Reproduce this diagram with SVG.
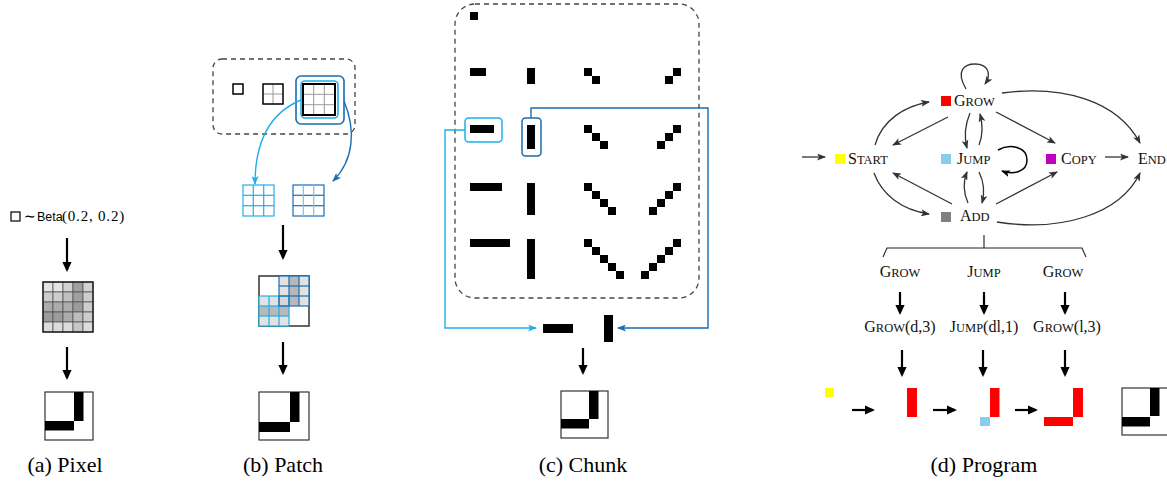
<svg xmlns="http://www.w3.org/2000/svg" width="1167" height="482" viewBox="0 0 1167 482">
<style>
.cap{font-family:"Liberation Serif","Times New Roman",serif;font-size:22px;fill:#000;text-anchor:middle}
.sc{font-family:"Liberation Serif","Times New Roman",serif;font-size:16px;fill:#111}
.sm{font-size:12.5px}
.ser{font-family:"Liberation Serif","Times New Roman",serif;fill:#000}
.sans{font-family:"Liberation Sans",Arial,sans-serif;fill:#000}
.k{stroke:#000;stroke-width:2.2;fill:none}
.g{stroke:#333;stroke-width:1.3;fill:none;marker-end:url(#mg)}
.dash{fill:none;stroke:#444;stroke-width:1.3;stroke-dasharray:5 4}
.px{fill:#000}
</style>
<defs>
<marker id="mk" markerUnits="userSpaceOnUse" markerWidth="10" markerHeight="10" viewBox="0 -5 10 10" refX="8" refY="0" orient="auto"><path d="M0,-4.6 L10,0 L0,4.6 z" fill="#000"/></marker>
<marker id="mg" markerUnits="userSpaceOnUse" markerWidth="9" markerHeight="7" viewBox="0 0 9 7" refX="8" refY="3.5" orient="auto"><path d="M0,0 L9,3.5 L0,7 L2.2,3.5 z" fill="#333"/></marker>
<marker id="mgk" markerUnits="userSpaceOnUse" markerWidth="9" markerHeight="7" viewBox="0 0 9 7" refX="8" refY="3.5" orient="auto"><path d="M0,0 L9,3.5 L0,7 L2.2,3.5 z" fill="#000"/></marker>
<marker id="mlb" markerUnits="userSpaceOnUse" markerWidth="9" markerHeight="7" viewBox="0 0 9 7" refX="8" refY="3.5" orient="auto"><path d="M0,0 L9,3.5 L0,7 L2.2,3.5 z" fill="#1eb0ea"/></marker>
<marker id="mdb" markerUnits="userSpaceOnUse" markerWidth="9" markerHeight="7" viewBox="0 0 9 7" refX="8" refY="3.5" orient="auto"><path d="M0,0 L9,3.5 L0,7 L2.2,3.5 z" fill="#1a6db3"/></marker>
</defs>

<!-- (a) Pixel -->
<g id="pixel">
<rect x="11" y="212" width="9" height="9" fill="none" stroke="#000" stroke-width="1.2"/>
<text class="ser" x="24" y="221" font-size="14">∼</text>
<text class="sans" x="37" y="221" font-size="12.5">Beta</text>
<text class="ser" x="62" y="221" font-size="15" letter-spacing="0.8">(0.2, 0.2)</text>
<g id="pixel-grid" stroke="#555" stroke-width="0.8">
<rect x="43" y="282" width="10" height="10" fill="#e4e4e4"/><rect x="53" y="282" width="10" height="10" fill="#e4e4e4"/><rect x="63" y="282" width="10" height="10" fill="#d2d2d2"/><rect x="73" y="282" width="10" height="10" fill="#a0a0a0"/><rect x="83" y="282" width="10" height="10" fill="#d2d2d2"/>
<rect x="43" y="292" width="10" height="10" fill="#cdcdcd"/><rect x="53" y="292" width="10" height="10" fill="#cdcdcd"/><rect x="63" y="292" width="10" height="10" fill="#c0c0c0"/><rect x="73" y="292" width="10" height="10" fill="#a0a0a0"/><rect x="83" y="292" width="10" height="10" fill="#cdcdcd"/>
<rect x="43" y="302" width="10" height="10" fill="#acacac"/><rect x="53" y="302" width="10" height="10" fill="#acacac"/><rect x="63" y="302" width="10" height="10" fill="#acacac"/><rect x="73" y="302" width="10" height="10" fill="#9c9c9c"/><rect x="83" y="302" width="10" height="10" fill="#cdcdcd"/>
<rect x="43" y="312" width="10" height="10" fill="#9c9c9c"/><rect x="53" y="312" width="10" height="10" fill="#9c9c9c"/><rect x="63" y="312" width="10" height="10" fill="#acacac"/><rect x="73" y="312" width="10" height="10" fill="#bcbcbc"/><rect x="83" y="312" width="10" height="10" fill="#cdcdcd"/>
<rect x="43" y="322" width="10" height="10" fill="#dcdcdc"/><rect x="53" y="322" width="10" height="10" fill="#dcdcdc"/><rect x="63" y="322" width="10" height="10" fill="#dcdcdc"/><rect x="73" y="322" width="10" height="10" fill="#c6c6c6"/><rect x="83" y="322" width="10" height="10" fill="#dcdcdc"/>
</g>
<rect x="43" y="282" width="50" height="50" fill="none" stroke="#222" stroke-width="1.5"/>
<rect x="45" y="392" width="48" height="48" fill="#fff" stroke="#333" stroke-width="1.2"/>
<rect x="74" y="392" width="9.5" height="29" fill="#000"/>
<rect x="45" y="421" width="29" height="9.5" fill="#000"/>
</g>

<!-- (b) Patch -->
<g id="patch">
<rect x="213" y="59" width="142" height="75" rx="9" class="dash"/>
<rect x="233" y="84" width="10" height="10" fill="none" stroke="#000" stroke-width="1.5"/>
<g stroke="#999" stroke-width="1"><line x1="273" y1="84" x2="273" y2="104"/><line x1="263" y1="94" x2="283" y2="94"/></g>
<rect x="263" y="84" width="20" height="20" fill="none" stroke="#000" stroke-width="1.5"/>
<rect x="296" y="76" width="48" height="48" rx="5" fill="none" stroke="#1a6db3" stroke-width="1.6"/>
<rect x="301" y="81" width="37" height="37" rx="4" fill="none" stroke="#1eb0ea" stroke-width="1.6"/>
<g stroke="#999" stroke-width="1"><line x1="313.7" y1="84" x2="313.7" y2="115"/><line x1="324.3" y1="84" x2="324.3" y2="115"/><line x1="303" y1="94.3" x2="335" y2="94.3"/><line x1="303" y1="104.7" x2="335" y2="104.7"/></g>
<rect x="303" y="84" width="32" height="31" fill="none" stroke="#000" stroke-width="2"/>
<path d="M301,100 C272,112 255,138 255,184" fill="none" stroke="#1eb0ea" stroke-width="1.4" marker-end="url(#mlb)"/>
<path d="M344,101 C356,130 354,160 333,181" fill="none" stroke="#1a6db3" stroke-width="1.4" marker-end="url(#mdb)"/>
<g stroke="#1eb0ea" stroke-width="1.2" fill="none"><rect x="243" y="185" width="31" height="31"/><line x1="253.3" y1="185" x2="253.3" y2="216"/><line x1="263.7" y1="185" x2="263.7" y2="216"/><line x1="243" y1="195.3" x2="274" y2="195.3"/><line x1="243" y1="205.7" x2="274" y2="205.7"/></g>
<g stroke="#1a6db3" stroke-width="1.2" fill="none"><rect x="293" y="185" width="31" height="31"/><line x1="293" y1="195.3" x2="324" y2="195.3"/><line x1="293" y1="205.7" x2="324" y2="205.7"/><line x1="303.3" y1="185" x2="303.3" y2="216" stroke="#7fbfe6"/><line x1="313.7" y1="185" x2="313.7" y2="216" stroke="#7fbfe6"/></g>
<rect x="259" y="276" width="50" height="50" fill="#fff" stroke="#333" stroke-width="1.5"/>
<g stroke="none">
<rect x="279" y="276" width="10" height="10" fill="#e2e2e2"/><rect x="289" y="276" width="10" height="10" fill="#b8b8b8"/><rect x="299" y="276" width="10" height="10" fill="#e2e2e2"/>
<rect x="279" y="286" width="10" height="10" fill="#e2e2e2"/><rect x="289" y="286" width="10" height="10" fill="#b8b8b8"/><rect x="299" y="286" width="10" height="10" fill="#e2e2e2"/>
<rect x="259" y="296" width="10" height="10" fill="#e2e2e2"/><rect x="269" y="296" width="10" height="10" fill="#e2e2e2"/><rect x="279" y="296" width="10" height="10" fill="#d6d6d6"/><rect x="289" y="296" width="10" height="10" fill="#b8b8b8"/><rect x="299" y="296" width="10" height="10" fill="#e2e2e2"/>
<rect x="259" y="306" width="10" height="10" fill="#b8b8b8"/><rect x="269" y="306" width="10" height="10" fill="#b8b8b8"/><rect x="279" y="306" width="10" height="10" fill="#b8b8b8"/>
<rect x="259" y="316" width="10" height="10" fill="#e2e2e2"/><rect x="269" y="316" width="10" height="10" fill="#e2e2e2"/><rect x="279" y="316" width="10" height="10" fill="#e2e2e2"/>
</g>
<g stroke="#1eb0ea" stroke-width="1.2" fill="none"><rect x="259" y="296" width="30" height="30"/><line x1="269" y1="296" x2="269" y2="326"/><line x1="279" y1="296" x2="279" y2="326"/><line x1="259" y1="306" x2="289" y2="306"/><line x1="259" y1="316" x2="289" y2="316"/></g>
<g stroke="#1a6db3" stroke-width="1.2" fill="none"><rect x="279" y="276" width="30" height="30"/><line x1="289" y1="276" x2="289" y2="306"/><line x1="299" y1="276" x2="299" y2="306"/><line x1="279" y1="286" x2="309" y2="286"/><line x1="279" y1="296" x2="309" y2="296"/></g>
<rect x="259" y="392" width="50" height="48" fill="#fff" stroke="#333" stroke-width="1.2"/>
<rect x="290" y="392" width="9.5" height="30" fill="#000"/>
<rect x="259" y="422" width="31" height="10" fill="#000"/>
</g>

<!-- (c) Chunk -->
<g id="chunk">
<rect x="455" y="4" width="244" height="294" rx="20" class="dash"/>
<g class="px">
<rect x="470" y="12" width="8" height="8"/>
<rect x="470" y="68" width="16" height="8"/><rect x="527" y="68" width="8" height="16"/>
<rect x="584" y="68" width="8" height="8"/><rect x="592" y="76" width="8" height="8"/>
<rect x="673" y="68" width="8" height="8"/><rect x="665" y="76" width="8" height="8"/>
<rect x="470" y="125" width="24" height="8"/><rect x="527" y="125" width="8" height="24"/>
<rect x="584" y="125" width="8" height="8"/><rect x="592" y="133" width="8" height="8"/><rect x="600" y="141" width="8" height="8"/>
<rect x="673" y="125" width="8" height="8"/><rect x="665" y="133" width="8" height="8"/><rect x="657" y="141" width="8" height="8"/>
<rect x="470" y="183" width="32" height="8"/><rect x="527" y="183" width="8" height="32"/>
<rect x="584" y="183" width="8" height="8"/><rect x="592" y="191" width="8" height="8"/><rect x="600" y="199" width="8" height="8"/><rect x="608" y="207" width="8" height="8"/>
<rect x="673" y="183" width="8" height="8"/><rect x="665" y="191" width="8" height="8"/><rect x="657" y="199" width="8" height="8"/><rect x="649" y="207" width="8" height="8"/>
<rect x="470" y="239" width="40" height="8"/><rect x="527" y="239" width="8" height="40"/>
<rect x="584" y="239" width="8" height="8"/><rect x="592" y="247" width="8" height="8"/><rect x="600" y="255" width="8" height="8"/><rect x="608" y="263" width="8" height="8"/><rect x="616" y="271" width="8" height="8"/>
<rect x="673" y="239" width="8" height="8"/><rect x="665" y="247" width="8" height="8"/><rect x="657" y="255" width="8" height="8"/><rect x="649" y="263" width="8" height="8"/><rect x="641" y="271" width="8" height="8"/>
</g>
<rect x="465" y="118" width="37" height="24" rx="3.5" fill="none" stroke="#1eb0ea" stroke-width="1.5"/>
<rect x="522" y="118" width="19" height="38" rx="3.5" fill="none" stroke="#1a6db3" stroke-width="1.5"/>
<rect x="543" y="324" width="30" height="9" fill="#000"/>
<rect x="604" y="315" width="9" height="27" fill="#000"/>
<rect x="561" y="391" width="47" height="47" fill="#fff" stroke="#333" stroke-width="1.2"/>
<rect x="589" y="391" width="9.5" height="28" fill="#000"/>
<rect x="561" y="419" width="28" height="9.5" fill="#000"/>
</g>

<!-- (d) Program -->
<g id="node-grow"><rect x="941" y="96" width="10" height="10" fill="#ff0000"/><text class="sc" x="954" y="106">G<tspan class="sm">ROW</tspan></text></g>
<g id="node-start"><rect x="835" y="154" width="10" height="10" fill="#ffff00"/><text class="sc" x="848" y="164">S<tspan class="sm">TART</tspan></text></g>
<g id="node-jump"><rect x="941" y="154" width="10" height="10" fill="#87ceeb"/><text class="sc" x="957" y="164">J<tspan class="sm">UMP</tspan></text></g>
<g id="node-copy"><rect x="1046" y="154" width="10" height="10" fill="#bf00bf"/><text class="sc" x="1061" y="164">C<tspan class="sm">OPY</tspan></text></g>
<g id="node-end"><text class="sc" x="1138" y="164">E<tspan class="sm">ND</tspan></text></g>
<g id="node-add"><rect x="941" y="212" width="10" height="10" fill="#808080"/><text class="sc" x="960" y="221">A<tspan class="sm">DD</tspan></text></g>

<g id="connectors">
<path class="g" d="M802,157 L825,157"/>
<path class="g" d="M1105,157 L1128,157"/>
<path class="g" d="M966,89 C955,70 965,64 975,64 C988,64 992,74 985,84"/>
<path class="g" d="M875,145 C882,120 905,106 929,102"/>
<path class="g" d="M948,117 L893,145"/>
<path class="g" d="M970,113 C965,125 964,137 967,148"/>
<path class="g" d="M979,145 C983,135 983,125 980,114"/>
<path class="g" d="M996,112 L1055,143"/>
<path class="g" d="M1002,93 C1062,85 1117,100 1140,143"/>
<path d="M998,150 C1010,143 1027,147 1027,160 C1027,172 1013,175 1002,171" fill="none" stroke="#000" stroke-width="1.5" marker-end="url(#mgk)"/>
<path class="g" d="M979,172 C984,182 985,192 982,203"/>
<path class="g" d="M968,203 C963,192 963,182 967,172"/>
<path class="g" d="M952,204 L893,173"/>
<path class="g" d="M874,173 C882,195 902,210 929,214"/>
<path class="g" d="M996,204 L1057,172"/>
<path class="g" d="M997,222 C1060,232 1120,215 1140,173"/>
<path d="M984,235 L984,248 M883,257 L887,248 L1082,248 L1086,257" fill="none" stroke="#222" stroke-width="1.1"/>
<path class="k" d="M67,238 L67,270" marker-end="url(#mk)"/>
<path class="k" d="M67,347 L67,378" marker-end="url(#mk)"/>
<path class="k" d="M283,225 L283,258" marker-end="url(#mk)"/>
<path class="k" d="M283,342 L283,373" marker-end="url(#mk)"/>
<path class="k" d="M583,348 L583,373" marker-end="url(#mk)"/>
<path class="k" d="M900,292 L900,313" marker-end="url(#mk)"/>
<path class="k" d="M984,292 L984,313" marker-end="url(#mk)"/>
<path class="k" d="M1065,292 L1065,313" marker-end="url(#mk)"/>
<path class="k" d="M902,350 L902,375" marker-end="url(#mk)"/>
<path class="k" d="M983,350 L983,375" marker-end="url(#mk)"/>
<path class="k" d="M1065,350 L1065,375" marker-end="url(#mk)"/>
<path class="k" d="M852,410 L873,410" marker-end="url(#mk)"/>
<path class="k" d="M933,410 L955,410" marker-end="url(#mk)"/>
<path class="k" d="M1015,410 L1036,410" marker-end="url(#mk)"/>
<path d="M465,130 L445,130 L445,328 L536,328" fill="none" stroke="#1eb0ea" stroke-width="1.4" marker-end="url(#mlb)"/>
<path d="M531,118 L531,108 L708,108 L708,328 L618,328" fill="none" stroke="#1a6db3" stroke-width="1.4" marker-end="url(#mdb)"/>
</g>

<g id="program-steps">
<text class="sc" x="900" y="277" text-anchor="middle">G<tspan class="sm">ROW</tspan></text>
<text class="sc" x="984" y="277" text-anchor="middle">J<tspan class="sm">UMP</tspan></text>
<text class="sc" x="1063" y="277" text-anchor="middle">G<tspan class="sm">ROW</tspan></text>
<text class="sc" x="900" y="332" text-anchor="middle">G<tspan class="sm">ROW</tspan>(d,3)</text>
<text class="sc" x="984" y="332" text-anchor="middle">J<tspan class="sm">UMP</tspan>(dl,1)</text>
<text class="sc" x="1067" y="332" text-anchor="middle">G<tspan class="sm">ROW</tspan>(l,3)</text>
<rect x="825" y="388" width="9" height="9" fill="#ffff00"/>
<rect x="907" y="388" width="10" height="29" fill="#ff0000"/>
<rect x="990" y="388" width="9.5" height="29" fill="#ff0000"/>
<rect x="980" y="417" width="10" height="9" fill="#87ceeb"/>
<rect x="1073" y="388" width="10" height="29" fill="#ff0000"/>
<rect x="1044" y="417" width="29" height="9" fill="#ff0000"/>
<rect x="1122" y="388" width="50" height="47" fill="#fff" stroke="#333" stroke-width="1.2"/>
<rect x="1150" y="388" width="9.5" height="28" fill="#000"/>
<rect x="1122" y="417" width="28" height="9.5" fill="#000"/>
</g>

<g id="captions">
<text class="cap" x="65" y="472">(a) Pixel</text>
<text class="cap" x="283" y="472">(b) Patch</text>
<text class="cap" x="583" y="472">(c) Chunk</text>
<text class="cap" x="984" y="472">(d) Program</text>
</g>
</svg>
